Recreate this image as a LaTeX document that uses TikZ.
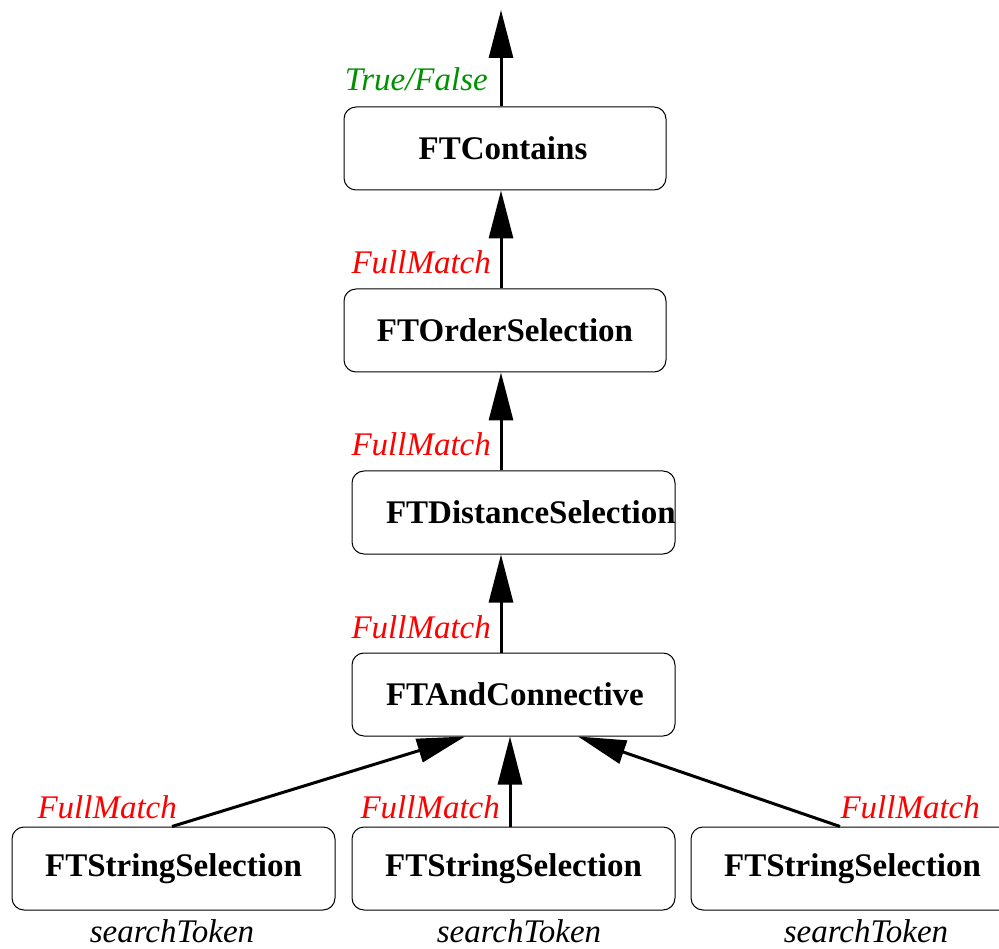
\documentclass[tikz,border=0pt]{standalone}
\usepackage{fontspec}
\setmainfont{Liberation Serif}
\usetikzlibrary{arrows.meta,calc}
\definecolor{lblred}{RGB}{255,0,0}
\definecolor{lblgreen}{RGB}{0,144,0}
\begin{document}
\begin{tikzpicture}[x=1pt,y=-1pt,
  box/.style={draw=black,line width=1pt,rounded corners=12pt,minimum width=323pt,minimum height=83pt,inner sep=0pt,font=\fontsize{33}{40}\selectfont\bfseries},
  lbox/.style={box,inner xsep=34pt},
  arr/.style={line width=3pt,-{Triangle[length=48pt,width=24pt]}},
  fm/.style={inner sep=0pt,anchor=base east,text=lblred,font=\fontsize{33}{40}\selectfont\itshape},
  tf/.style={fm,text=lblgreen},
  st/.style={inner sep=0pt,anchor=base,font=\fontsize{33}{40}\selectfont\itshape}]
\useasboundingbox (0,0) rectangle (999,949);
\begin{scope}
\clip (0,0) rectangle (999,949);
\node[box,minimum width=322pt] (contains) at (505,148.5) {\hspace*{-4pt}FTContains};
\node[box,minimum width=322pt] (order) at (505,330.5) {FTOrderSelection};
\node[lbox] (dist) at (513.5,512.5) {\makebox[255pt][l]{FTDistanceSelection}};
\node[lbox] (and) at (513.5,694.5) {\makebox[255pt][l]{FTAndConnective}};
\node[box] (s1) at (173.5,868.5) {FTStringSelection};
\node[box] (s2) at (513.5,868.5) {FTStringSelection};
\node[box] (s3) at (852.5,868.5) {FTStringSelection};

\coordinate (vx) at (501,0);
\coordinate (top) at (501,10);
\draw[arr] (contains.north -| vx) -- (top);
\draw[arr] (order.north -| vx) -- (contains.south -| vx);
\draw[arr] (dist.north -| vx) -- (order.south -| vx);
\draw[arr] (and.north -| vx) -- (dist.south -| vx);
\draw[arr] (s1.north -| 172,0) -- (and.south -| 465,0);
\draw[arr] (s2.north -| 510,0) -- (and.south -| 510,0);
\draw[arr] (s3.north -| 840,0) -- (and.south -| 578,0);

\node[tf] (tfl) at (488,91) {True/False};
\node[fm] (fm1) at (491,274) {FullMatch};
\node[fm] (fm2) at (491,456) {FullMatch};
\node[fm] (fm3) at (491,638) {FullMatch};
\node[fm] (fm4) at (177,818) {FullMatch};
\node[fm] (fm5) at (500,818) {FullMatch};
\node[fm] (fm6) at (980,818) {FullMatch};

\node[st] (st1) at (172,942) {searchToken};
\node[st] (st2) at (519,942) {searchToken};
\node[st] (st3) at (866,942) {searchToken};
\end{scope}
\end{tikzpicture}
\end{document}
